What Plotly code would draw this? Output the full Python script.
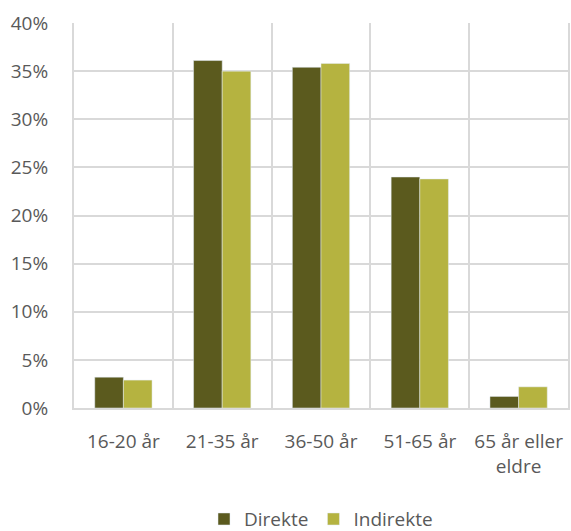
import plotly.graph_objects as go

categories = ["16-20 år", "21-35 år", "36-50 år", "51-65 år", "65 år eller<br>eldre"]
direkte = [0.032, 0.361, 0.354, 0.240, 0.012]
indirekte = [0.029, 0.350, 0.358, 0.238, 0.022]

text_color = "#595959"
grid_color = "#D9D9D9"
font_size = 19

fig = go.Figure()
fig.add_trace(go.Bar(name="Direkte", x=categories, y=direkte, marker_color="#5B5A1E"))
fig.add_trace(go.Bar(name="Indirekte", x=categories, y=indirekte, marker_color="#B5B340"))

fig.update_layout(
    width=571, height=531,
    margin=dict(l=74, r=3, t=23, b=123, autoexpand=False),
    paper_bgcolor="white", plot_bgcolor="white",
    barmode="group", bargap=0.42, bargroupgap=0,
    font=dict(family="Open Sans", size=font_size, color=text_color),
    legend=dict(orientation="h", x=0.5, xanchor="center", y=-0.338, yanchor="bottom",
                font=dict(size=font_size, color=text_color), itemwidth=30,
                tracegroupgap=0, traceorder="normal"),
    xaxis=dict(type="category", tickson="boundaries", showgrid=True, gridcolor=grid_color,
               gridwidth=2, showline=True, linecolor=grid_color, linewidth=2,
               ticks="", ticklabelstandoff=15, automargin=False,
               tickfont=dict(size=font_size, color=text_color)),
    yaxis=dict(range=[0, 0.4], dtick=0.05, tickformat=".0%", showgrid=True,
               gridcolor=grid_color, gridwidth=2, zeroline=False,
               showline=True, mirror=True, linecolor=grid_color, linewidth=2,
               ticks="", ticklabelstandoff=20, automargin=False,
               tickfont=dict(size=font_size, color=text_color)),
)

fig.write_html("out.html")
